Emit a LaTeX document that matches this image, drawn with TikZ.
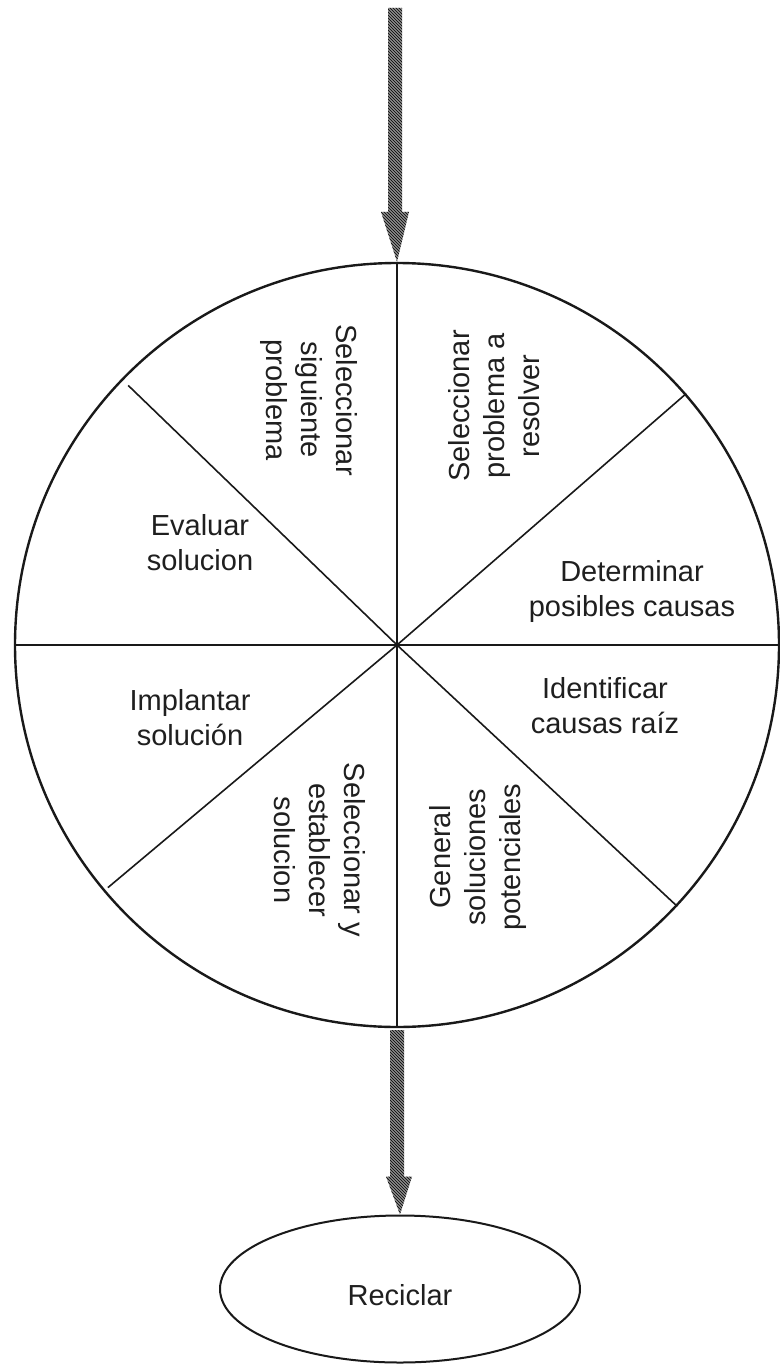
\documentclass[tikz,border=0pt]{standalone}
\usepackage{fontspec}
\setmainfont{Liberation Sans}
\usetikzlibrary{calc,shapes.geometric,patterns}
\begin{document}
\begin{tikzpicture}[x=1pt,y=-1pt,
  lbl/.style={font=\fontsize{29}{35}\selectfont, text=black!88, align=center, inner sep=0pt},
  rim/.style={draw=black!90, line width=2.4pt},
  spoke/.style={draw=black!90, line width=1.6pt},
  fatarrow/.style={preaction={fill=black!45}, pattern=north west lines, pattern color=black}]
\useasboundingbox (0,0) rectangle (779,1364);
\fill[white] (0,0) rectangle (779,1364);

% the wheel of the improvement cycle
\node[circle, rim, minimum size=764pt, inner sep=0pt] (wheel) at (397,645) {};
\draw[spoke] (wheel.north) -- (wheel.south);
\draw[spoke] (wheel.west) -- (wheel.east);
\draw[spoke] (wheel.center) -- ($(wheel.center)!0.975!(wheel.136)$);
\draw[spoke] (wheel.center) -- (wheel.41);
\draw[spoke] (wheel.center) -- ($(wheel.center)!0.985!(wheel.220)$);
\draw[spoke] (wheel.center) -- (wheel.-43);

% sector labels
\node[lbl, rotate=-90] (s1) at (309,400) {Seleccionar\\siguiente\\problema};
\node[lbl, rotate=90]  (s2) at (494,406) {Seleccionar\\problema a\\resolver};
\node[lbl] (s3) at (632,591) {Determinar\\posibles causas};
\node[lbl] (s4) at (605,706) {Identificar\\causas raíz};
\node[lbl, rotate=90]  (s5) at (478,857) {General\\soluciones\\potenciales};
\node[lbl, rotate=-90] (s6) at (320,850) {Seleccionar y\\establecer\\solucion};
\node[lbl] (s7) at (190,718) {Implantar\\solución};
\node[lbl] (s8) at (200,543) {Evaluar\\solucion};

% final step
\node[ellipse, draw=black!90, line width=2pt, minimum width=360pt, minimum height=147pt, inner sep=0pt] (rec) at (400,1289) {};
\node[lbl] (reclbl) at (400,1295) {Reciclar};

% incoming arrow
\coordinate (src) at (395,8);
\fill[fatarrow] ($(src)+(-7,0)$) -- ($(src)+(7,0)$) -- ($(wheel.north)+(5,-50)$)
  -- ($(wheel.north)+(12,-50)$) -- (wheel.north) -- ($(wheel.north)+(-16,-50)$)
  -- ($(wheel.north)+(-9,-50)$) -- cycle;

% outgoing arrow
\fill[fatarrow] ($(wheel.south)+(-7,2)$) -- ($(wheel.south)+(7,2)$) -- ($(rec.north)+(4,-38)$)
  -- ($(rec.north)+(12,-38)$) -- (rec.north) -- ($(rec.north)+(-14,-38)$)
  -- ($(rec.north)+(-10,-38)$) -- cycle;
\end{tikzpicture}
\end{document}
